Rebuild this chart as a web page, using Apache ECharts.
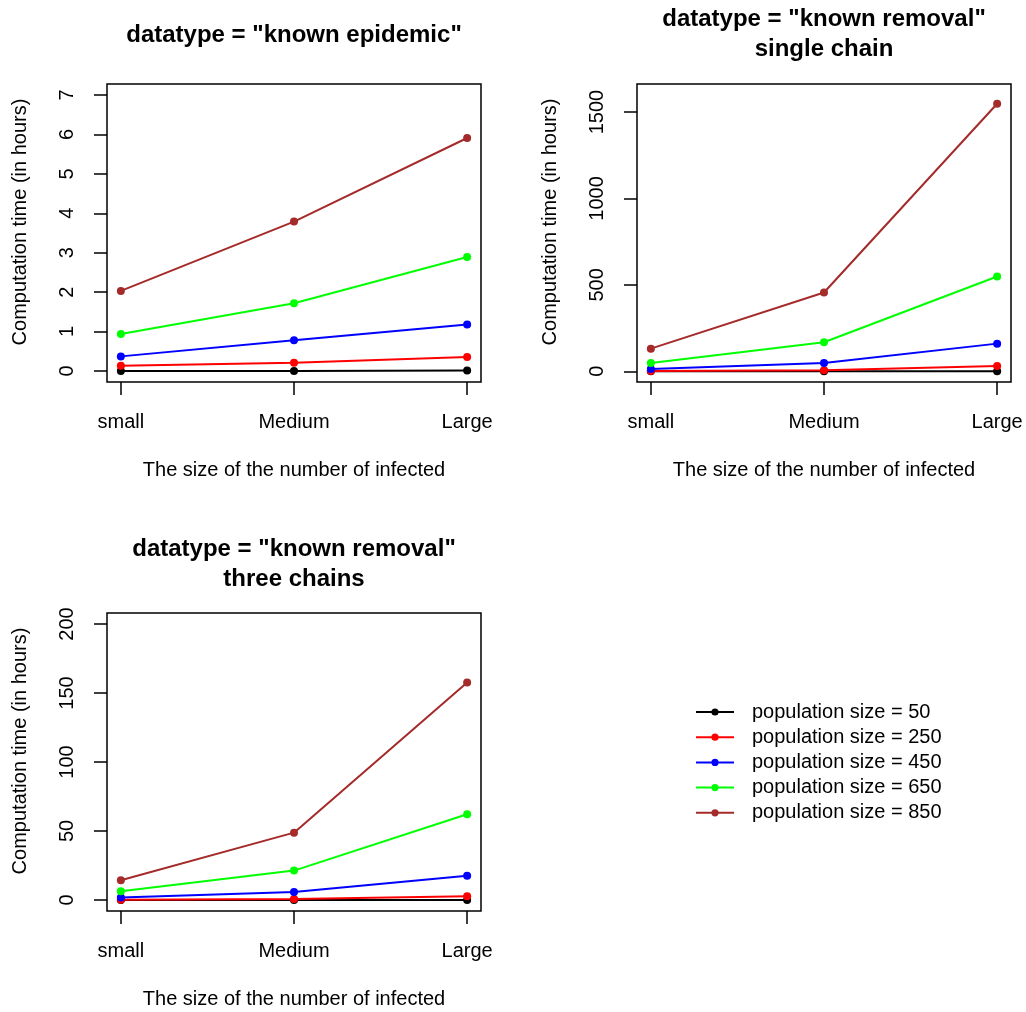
<!DOCTYPE html>
<html>
<head>
<meta charset="utf-8">
<script src="https://cdn.jsdelivr.net/npm/echarts@6/dist/echarts.min.js"></script>
<style>
html,body{margin:0;padding:0;background:#fff;}
#chart{width:1026px;height:1012px;}
</style>
</head>
<body>
<div id="chart"></div>
<script>
// ---- data ----
const categories = ["small", "Medium", "Large"];
const seriesNames = ["population size = 50", "population size = 250", "population size = 450", "population size = 650", "population size = 850"];
const seriesColors = ["#000000", "#FF0000", "#0000FF", "#00FF00", "#A52A2A"];

// Panel 1: datatype = "known epidemic"
const epidemic50  = [0, 0, 0.01];
const epidemic250 = [0.13, 0.21, 0.355];
const epidemic450 = [0.37, 0.78, 1.18];
const epidemic650 = [0.94, 1.72, 2.89];
const epidemic850 = [2.03, 3.79, 5.91];

// Panel 2: datatype = "known removal", single chain
const single50  = [0, 0, 0];
const single250 = [1, 6, 31];
const single450 = [13.5, 48, 160];
const single650 = [48, 168, 548];
const single850 = [131, 456, 1548];

// Panel 3: datatype = "known removal", three chains
const three50  = [0, 0, 0];
const three250 = [0.2, 0.7, 2.7];
const three450 = [1.7, 5.8, 17.6];
const three650 = [6.3, 21.3, 62.1];
const three850 = [14.3, 48.8, 157.7];

const yTicks1 = [0, 1, 2, 3, 4, 5, 6, 7];
const yTicks2 = [0, 500, 1000, 1500];
const yTicks3 = [0, 50, 100, 150, 200];
const xTicks = [1, 2, 3];

const panelTitles = ['datatype = "known epidemic"', 'datatype = "known removal"\nsingle chain', 'datatype = "known removal"\nthree chains'];
const xTitle = "The size of the number of infected";
const yTitle = "Computation time (in hours)";

// ---- chart ----
const FONT = '"Liberation Sans", Arial, Helvetica, sans-serif';
const panels = [
  { data: [epidemic50, epidemic250, epidemic450, epidemic650, epidemic850], ticks: yTicks1, min: -0.28, max: 7.28 },
  { data: [single50, single250, single450, single650, single850], ticks: yTicks2, min: -62, max: 1662 },
  { data: [three50, three250, three450, three650, three850], ticks: yTicks3, min: -8, max: 208 }
];
const grids = [
  { left: 107, top: 84, width: 374, height: 298 },
  { left: 637, top: 84, width: 374, height: 298 },
  { left: 107, top: 613, width: 374, height: 298 }
];

const option = {
  animation: false,
  backgroundColor: '#ffffff',
  textStyle: { fontFamily: FONT },
  title: [
    { text: panelTitles[0], left: 294, top: 20, textAlign: 'center' },
    { text: panelTitles[1], left: 824, top: 4, textAlign: 'center' },
    { text: panelTitles[2], left: 294, top: 534, textAlign: 'center' }
  ].map(t => Object.assign(t, { padding: 0, textStyle: { fontFamily: FONT, fontSize: 24, fontWeight: 'bold', color: '#000', lineHeight: 30 } })),
  legend: {
    orient: 'vertical',
    left: 695,
    top: 702,
    padding: 0,
    itemWidth: 38,
    itemHeight: 9,
    itemGap: 5.2,
    data: seriesNames,
    selectedMode: false,
    textStyle: { fontFamily: FONT, fontSize: 20, color: '#000', lineHeight: 20, padding: [0, 0, 0, 13] }
  },
  grid: grids.map(g => Object.assign({ show: true, borderColor: '#000', borderWidth: 1.5, backgroundColor: 'transparent' }, g)),
  xAxis: grids.map((g, i) => ({
    type: 'value', gridIndex: i, min: 0.92, max: 3.08,
    axisLine: { show: false, onZero: false },
    splitLine: { show: false },
    axisTick: { show: true, length: 13, lineStyle: { color: '#000', width: 1.5 }, customValues: xTicks },
    axisLabel: { customValues: xTicks, margin: 30, fontFamily: FONT, fontSize: 20, color: '#000',
      formatter: v => categories[Math.round(v) - 1] },
    name: xTitle, nameLocation: 'middle', nameGap: 78,
    nameTextStyle: { fontFamily: FONT, fontSize: 20, color: '#000' }
  })),
  yAxis: panels.map((p, i) => ({
    type: 'value', gridIndex: i, min: p.min, max: p.max,
    axisLine: { show: false, onZero: false },
    splitLine: { show: false },
    axisTick: { show: true, length: 13, lineStyle: { color: '#000', width: 1.5 }, customValues: p.ticks },
    axisLabel: { customValues: p.ticks, rotate: 90, margin: 30, fontFamily: FONT, fontSize: 20, color: '#000',
      formatter: v => String(v) },
    name: yTitle, nameLocation: 'middle', nameGap: 77,
    nameTextStyle: { fontFamily: FONT, fontSize: 20, color: '#000', padding: [0, 0, 0, 22] }
  })),
  series: []
};

panels.forEach((p, pi) => {
  p.data.forEach((vals, si) => {
    option.series.push({
      type: 'line',
      name: seriesNames[si],
      xAxisIndex: pi, yAxisIndex: pi,
      data: vals.map((v, k) => [xTicks[k], v]),
      symbol: 'circle', symbolSize: 8,
      color: seriesColors[si],
      lineStyle: { color: seriesColors[si], width: 2 },
      itemStyle: { color: seriesColors[si] },
      emphasis: { disabled: true }
    });
  });
});

const chart = echarts.init(document.getElementById('chart'), null, { renderer: 'canvas' });
chart.setOption(option);
</script>
</body>
</html>
